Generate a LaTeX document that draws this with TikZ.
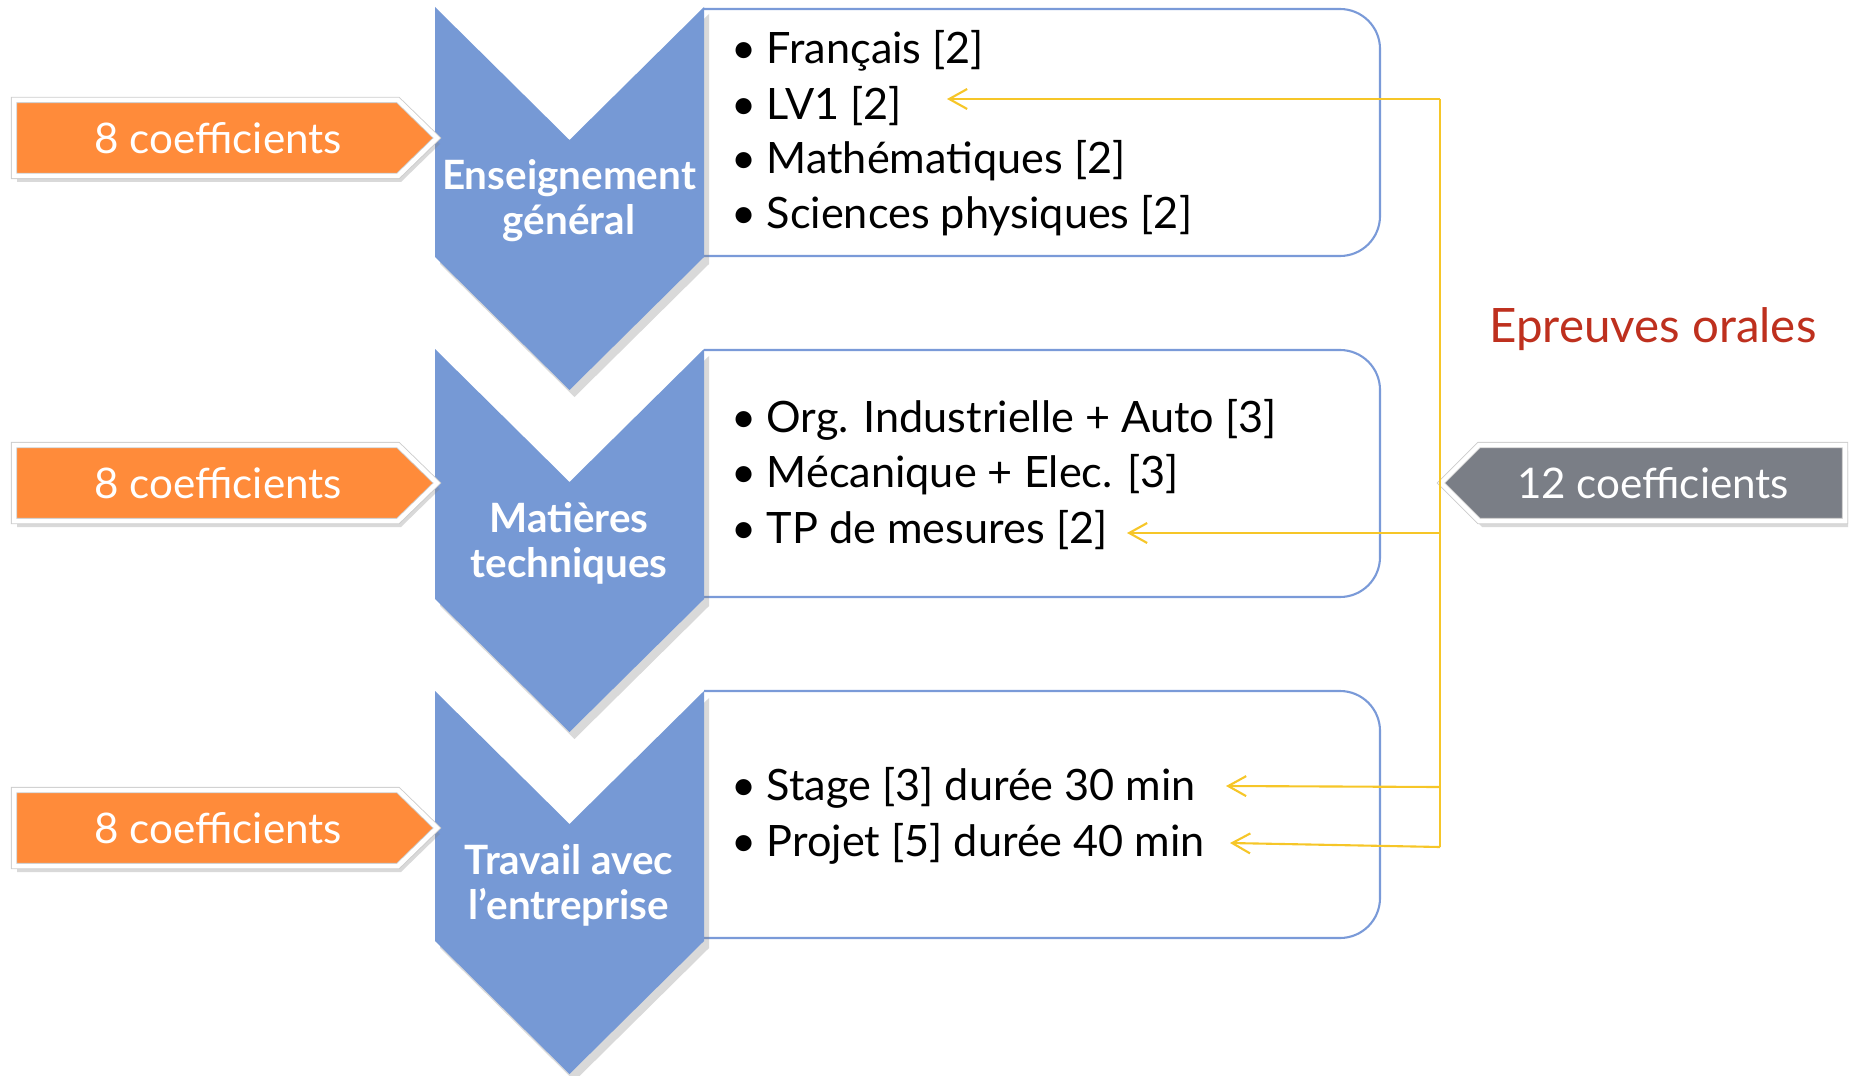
\documentclass[tikz,border=0pt]{standalone}
\usepackage{fontspec}
\setmainfont{Lato}
\usetikzlibrary{shadows}
\usetikzlibrary{arrows.meta}
\definecolor{chevblue}{RGB}{118,153,213}
\definecolor{boxblue}{RGB}{122,154,216}
\definecolor{coeforange}{RGB}{255,139,58}
\definecolor{coefgray}{RGB}{122,126,134}
\definecolor{linkyellow}{RGB}{246,198,40}
\definecolor{oralred}{RGB}{190,48,30}
\tikzset{
    chevron/.style = {fill=chevblue, drop shadow={shadow xshift=0.5mm, shadow yshift=-0.7mm, opacity=0.3}},
    listbox/.style = {draw=boxblue, line width=0.6pt, rounded corners=4mm},
    coefbox/.style = {fill=#1, draw=gray!40, line width=0.25pt, double=white, double distance=0.45mm,
                      drop shadow={shadow xshift=0.3mm, shadow yshift=-0.6mm, opacity=0.3}},
    chevtext/.style = {align=center, text=white, inner sep=0pt, font=\fontsize{11.5}{12.8}\selectfont\bfseries},
    item/.style = {anchor=west, inner sep=0pt, font=\fontsize{12.3}{14}\selectfont},
    coeftext/.style = {text=white, font=\fontsize{12}{15}\selectfont},
    link/.style = {draw=linkyellow, line width=0.6pt},
    linkarrow/.style = {link, -{Straight Barb[length=1.8mm,width=2mm]}}
}
\newcommand{\itm}[1]{\makebox[3.5mm][l]{\textbullet}#1}

\begin{document}
\begin{tikzpicture}[x=0.1mm, y=-0.1mm]
\useasboundingbox (0,0) rectangle (1849,1076);
% boxes and chevrons
\foreach \t in {9,350,691}
  \draw[listbox] (704,\t) -- (1380,\t) -- (1380,\t+247) -- (704,\t+247);
\foreach \t in {7,349,691}
  \path[chevron] (435,\t) -- (569.5,\t+133) -- (704,\t) -- (704,\t+250)
                 -- (569.5,\t+383) -- (435,\t+250) -- cycle;
%
\node[chevtext] at (569,201) (eg) {Enseignement\\général};
\node[chevtext] at (569,543) (mt) {Matières\\techniques};
\node[chevtext] at (569,885) (te) {Travail avec\\l’entreprise};
%
\node[item] at (731,51) (fr) {\itm{Français [2]}};
\node[item] at (731,106) (lv) {\itm{LV1 [2]}};
\node[item] at (731,161) (ma) {\itm{Mathématiques [2]}};
\node[item] at (731,216) (sp) {\itm{Sciences physiques [2]}};
\node[item] at (731,420) (oi) {\itm{Org. Industrielle + Auto [3]}};
\node[item] at (731,475) (me) {\itm{Mécanique + Elec. [3]}};
\node[item] at (731,530) (tp) {\itm{TP de mesures [2]}};
\node[item] at (731,788) (st) {\itm{Stage [3] durée 30 min}};
\node[item] at (731,844) (pr) {\itm{Projet [5] durée 40 min}};
% coefficient arrows
\foreach \c in {138,483,828}
  \path[coefbox=coeforange] (14,\c-38) -- (398,\c-38) -- (437,\c) -- (398,\c+38) -- (14,\c+38) -- cycle;
\path[coefbox=coefgray] (1845,445) -- (1479,445) -- (1441,483) -- (1479,521) -- (1845,521) -- cycle;
\node[coeftext] at (218,138) (coefa) {8 coefficients};
\node[coeftext] at (218,483) (coefb) {8 coefficients};
\node[coeftext] at (218,828) (coefc) {8 coefficients};
\node[coeftext] at (1653,483) (coefo) {12 coefficients};
\node[text=oralred, font=\fontsize{13.5}{16}\selectfont] at (1653,329) (oral) {Epreuves orales};
% links to the oral exams
\coordinate (blv) at (1440,99);
\coordinate (btp) at (1440,533);
\coordinate (bst) at (1440,787);
\coordinate (bpr) at (1440,847);
\coordinate (tlv) at (947,99);
\coordinate (ttp) at (1127,533);
\coordinate (tst) at (1226,786);
\coordinate (tpr) at (1230,843);
\draw[link] (blv) -- (bpr);
\draw[linkarrow] (blv) -- (tlv);
\draw[linkarrow] (btp) -- (ttp);
\draw[linkarrow] (bst) -- (tst);
\draw[linkarrow] (bpr) -- (tpr);
\end{tikzpicture}
\end{document}
